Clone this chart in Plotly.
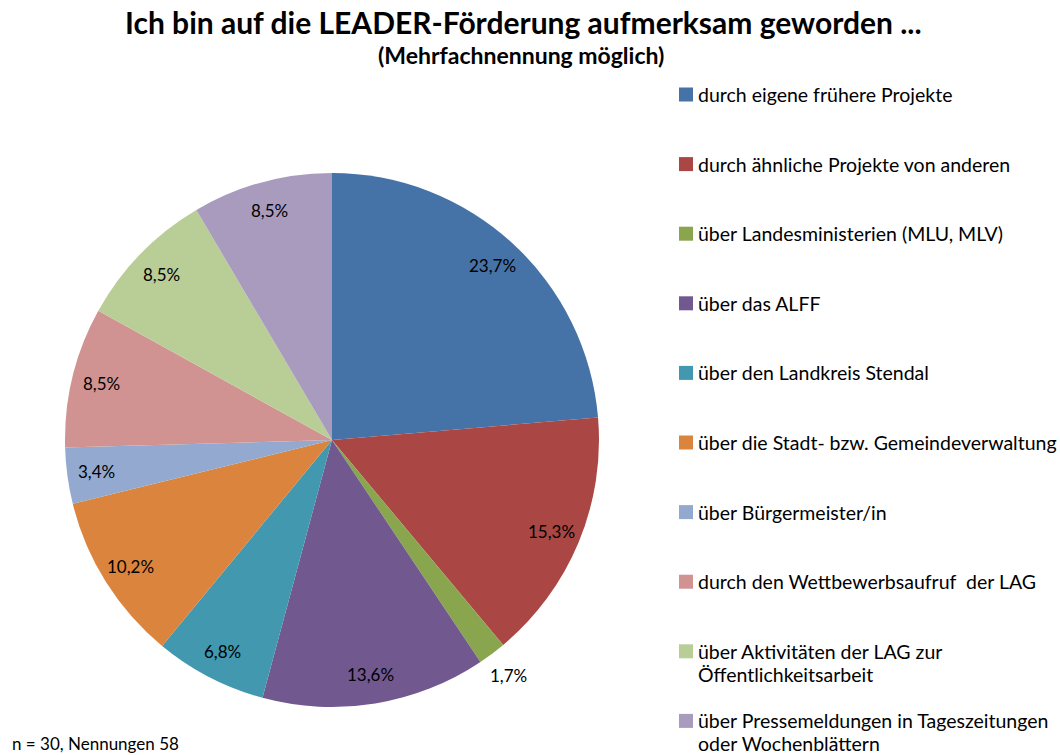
import plotly.graph_objects as go
import math

W, H = 1060, 755

labels = [
    "durch eigene frühere Projekte",
    "durch ähnliche Projekte von anderen",
    "über Landesministerien (MLU, MLV)",
    "über das ALFF",
    "über den Landkreis Stendal",
    "über die Stadt- bzw. Gemeindeverwaltung",
    "über Bürgermeister/in",
    "durch den Wettbewerbsaufruf  der LAG",
    "über Aktivitäten der LAG zur<br>Öffentlichkeitsarbeit",
    "über Pressemeldungen in Tageszeitungen<br>oder Wochenblättern",
]
values = [23.7, 15.3, 1.7, 13.6, 6.8, 10.2, 3.4, 8.5, 8.5, 8.5]
value_texts = ["23,7%", "15,3%", "1,7%", "13,6%", "6,8%", "10,2%", "3,4%", "8,5%", "8,5%", "8,5%"]
colors = ["#4572A7", "#AA4643", "#89A54E", "#71588F", "#4198AF",
          "#DB843D", "#93A9CF", "#D19392", "#B9CD96", "#A99BBD"]
outside = [False, False, True, False, False, False, False, False, False, False]

title = "Ich bin auf die LEADER-Förderung aufmerksam geworden ..."
subtitle = "(Mehrfachnennung möglich)"
footnote = "n = 30, Nennungen 58"

FONT = "Lato"

# pie geometry (pixels)
cx, cy, r = 332, 440, 267

def px(x):
    return x / W

def py(y):
    return 1 - y / H

fig = go.Figure()
fig.add_trace(go.Pie(
    labels=[l.replace("<br>", " ") for l in labels],
    values=values,
    sort=False,
    direction="clockwise",
    rotation=0,
    marker=dict(colors=colors, line=dict(width=0)),
    textinfo="none",
    hoverinfo="label+percent",
    showlegend=False,
    domain=dict(x=[px(cx - r), px(cx + r)], y=[py(cy + r), py(cy - r)]),
))

annotations = []
total = sum(values)
cum = 0.0
for v, t, out in zip(values, value_texts, outside):
    mid = (cum + v / 2) / total * 2 * math.pi
    cum += v
    rr = r * (1.10 if out else 0.89)
    lx = cx + rr * math.sin(mid)
    ly = cy - rr * math.cos(mid)
    annotations.append(dict(
        x=px(lx), y=py(ly), xref="paper", yref="paper",
        text=t, showarrow=False, xanchor="center", yanchor="middle",
        font=dict(family=FONT, size=17, color="#000000"),
    ))

# legend drawn manually
shapes = []
leg_x0, leg_y0, leg_dy, sq = 679, 94.5, 69.6, 14
for i, (lab, col) in enumerate(zip(labels, colors)):
    yc = leg_y0 + i * leg_dy
    shapes.append(dict(type="rect", xref="paper", yref="paper",
                       x0=px(leg_x0), x1=px(leg_x0 + sq),
                       y0=py(yc + sq / 2), y1=py(yc - sq / 2),
                       fillcolor=col, line=dict(width=0)))
    for j, line in enumerate(lab.split("<br>")):
        annotations.append(dict(
            x=px(leg_x0 + sq + 3), y=py(yc + j * 23), xref="paper", yref="paper",
            text=line, showarrow=False, xanchor="left", yanchor="middle",
            font=dict(family=FONT, size=19.5, color="#000000"),
        ))

annotations.append(dict(x=px(523), y=py(22), xref="paper", yref="paper",
                        text="<b>" + title + "</b>", showarrow=False,
                        xanchor="center", yanchor="middle",
                        font=dict(family=FONT, size=30, color="#000000")))
annotations.append(dict(x=px(521), y=py(55), xref="paper", yref="paper",
                        text="<b>" + subtitle + "</b>", showarrow=False,
                        xanchor="center", yanchor="middle",
                        font=dict(family=FONT, size=23, color="#000000")))
annotations.append(dict(x=px(10), y=py(743), xref="paper", yref="paper",
                        text=footnote, showarrow=False,
                        xanchor="left", yanchor="middle",
                        font=dict(family=FONT, size=17, color="#000000")))

fig.update_layout(
    width=W, height=H,
    margin=dict(l=0, r=0, t=0, b=0),
    paper_bgcolor="white", plot_bgcolor="white",
    annotations=annotations, shapes=shapes,
    showlegend=False,
)

fig.write_html("out.html",
               config={"displayModeBar": False},
               post_script="document.body.style.margin='0';document.body.style.padding='0';")
